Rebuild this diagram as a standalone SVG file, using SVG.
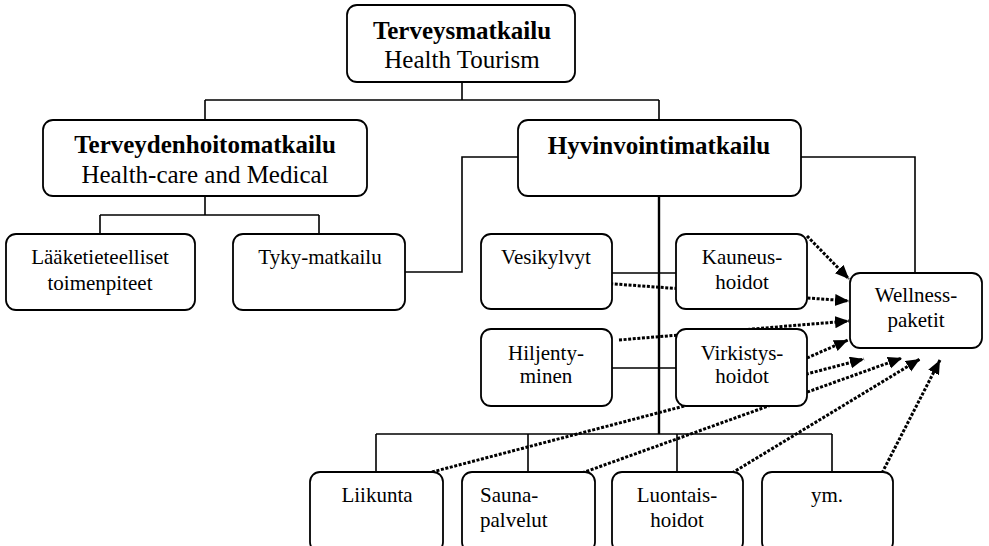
<svg xmlns="http://www.w3.org/2000/svg" width="989" height="546" viewBox="0 0 989 546">
<style>
.box{fill:#fff;stroke:#000;stroke-width:1.8}
.ln{fill:none;stroke:#000;stroke-width:1.6}
.dot{fill:none;stroke:#000;stroke-width:3;stroke-dasharray:3 1.6}
text{font-family:"Liberation Serif","Times New Roman",serif;fill:#000;text-anchor:middle}
.big{font-size:25px}
.b{font-weight:bold}
.sm{font-size:21px}
</style>
<defs>
<marker id="ah" markerUnits="userSpaceOnUse" markerWidth="16" markerHeight="14" refX="14" refY="6" orient="auto">
<path d="M0,0 L14,6 L0,12 Z" fill="#000"/>
</marker>
</defs>
<rect width="989" height="546" fill="#fff"/>
<g id="connectors">
<path class="ln" d="M462 82V100M205 100H659M205 100V120M659 100V120"/>
<path class="ln" d="M205 196V215M100 215H319M100 215V234M319 215V234"/>
<path class="ln" d="M405 272H462V157H518"/>
<path class="ln" d="M801 157H915V273"/>
<path class="ln" d="M659 196V434" style="stroke-width:2.4"/>
<path class="ln" d="M612 273H676M612 368H676"/>
<path class="ln" d="M376 434H832M376 434V472M528 434V472M677 434V472M832 434V472"/>
<g marker-end="url(#ah)">
<path class="dot" d="M807 236L849 279"/>
<path class="dot" d="M601 283L849 301"/>
<path class="dot" d="M619 340L849 321"/>
<path class="dot" d="M807 358L848 340"/>
<path class="dot" d="M432 472L864 359"/>
<path class="dot" d="M582 473L902 358"/>
<path class="dot" d="M732 473L920 359"/>
<path class="dot" d="M882 473L940 360"/>
</g>
</g>
<g id="terveysmatkailu">
<rect class="box" x="347" y="5" width="228" height="77" rx="10"/>
<text class="big b" x="462" y="39">Terveysmatkailu</text>
<text class="big" x="462" y="68">Health Tourism</text>
</g>
<g id="terveydenhoitomatkailu">
<rect class="box" x="43" y="120" width="324" height="76" rx="10"/>
<text class="big b" x="205" y="153">Terveydenhoitomatkailu</text>
<text class="big" x="205" y="183">Health-care and Medical</text>
</g>
<g id="hyvinvointimatkailu">
<rect class="box" x="518" y="120" width="283" height="76" rx="10"/>
<text class="big b" x="659" y="154">Hyvinvointimatkailu</text>
</g>
<g id="laaketieteelliset">
<rect class="box" x="6" y="234" width="189" height="76" rx="10"/>
<text class="sm" x="100" y="264">Lääketieteelliset</text>
<text class="sm" x="100" y="290">toimenpiteet</text>
</g>
<g id="tyky">
<rect class="box" x="233" y="234" width="172" height="76" rx="10"/>
<text class="sm" x="320" y="264">Tyky-matkailu</text>
</g>
<g id="vesikylvyt">
<rect class="box" x="481" y="234" width="131" height="75" rx="10"/>
<text class="sm" x="546" y="264">Vesikylvyt</text>
</g>
<g id="kauneushoidot">
<rect class="box" x="676" y="234" width="131" height="75" rx="10"/>
<text class="sm" x="742" y="264">Kauneus-</text>
<text class="sm" x="742" y="289">hoidot</text>
</g>
<g id="hiljentyminen">
<rect class="box" x="481" y="329" width="131" height="77" rx="10"/>
<text class="sm" x="546" y="360">Hiljenty-</text>
<text class="sm" x="546" y="383">minen</text>
</g>
<g id="virkistyshoidot">
<rect class="box" x="676" y="329" width="131" height="77" rx="10"/>
<text class="sm" x="742" y="360">Virkistys-</text>
<text class="sm" x="742" y="383">hoidot</text>
</g>
<g id="wellness">
<rect class="box" x="850" y="273" width="132" height="75" rx="10"/>
<text class="sm" x="916" y="302">Wellness-</text>
<text class="sm" x="916" y="327">paketit</text>
</g>
<g id="liikunta">
<rect class="box" x="310" y="472" width="133" height="80" rx="10"/>
<text class="sm" x="377" y="502">Liikunta</text>
</g>
<g id="saunapalvelut">
<rect class="box" x="462" y="472" width="133" height="80" rx="10"/>
<text class="sm" x="480" y="502" style="text-anchor:start">Sauna-</text>
<text class="sm" x="480" y="527" style="text-anchor:start">palvelut</text>
</g>
<g id="luontaishoidot">
<rect class="box" x="612" y="472" width="131" height="80" rx="10"/>
<text class="sm" x="677" y="502">Luontais-</text>
<text class="sm" x="677" y="527">hoidot</text>
</g>
<g id="ym">
<rect class="box" x="762" y="472" width="131" height="80" rx="10"/>
<text class="sm" x="827" y="502">ym.</text>
</g>
</svg>
